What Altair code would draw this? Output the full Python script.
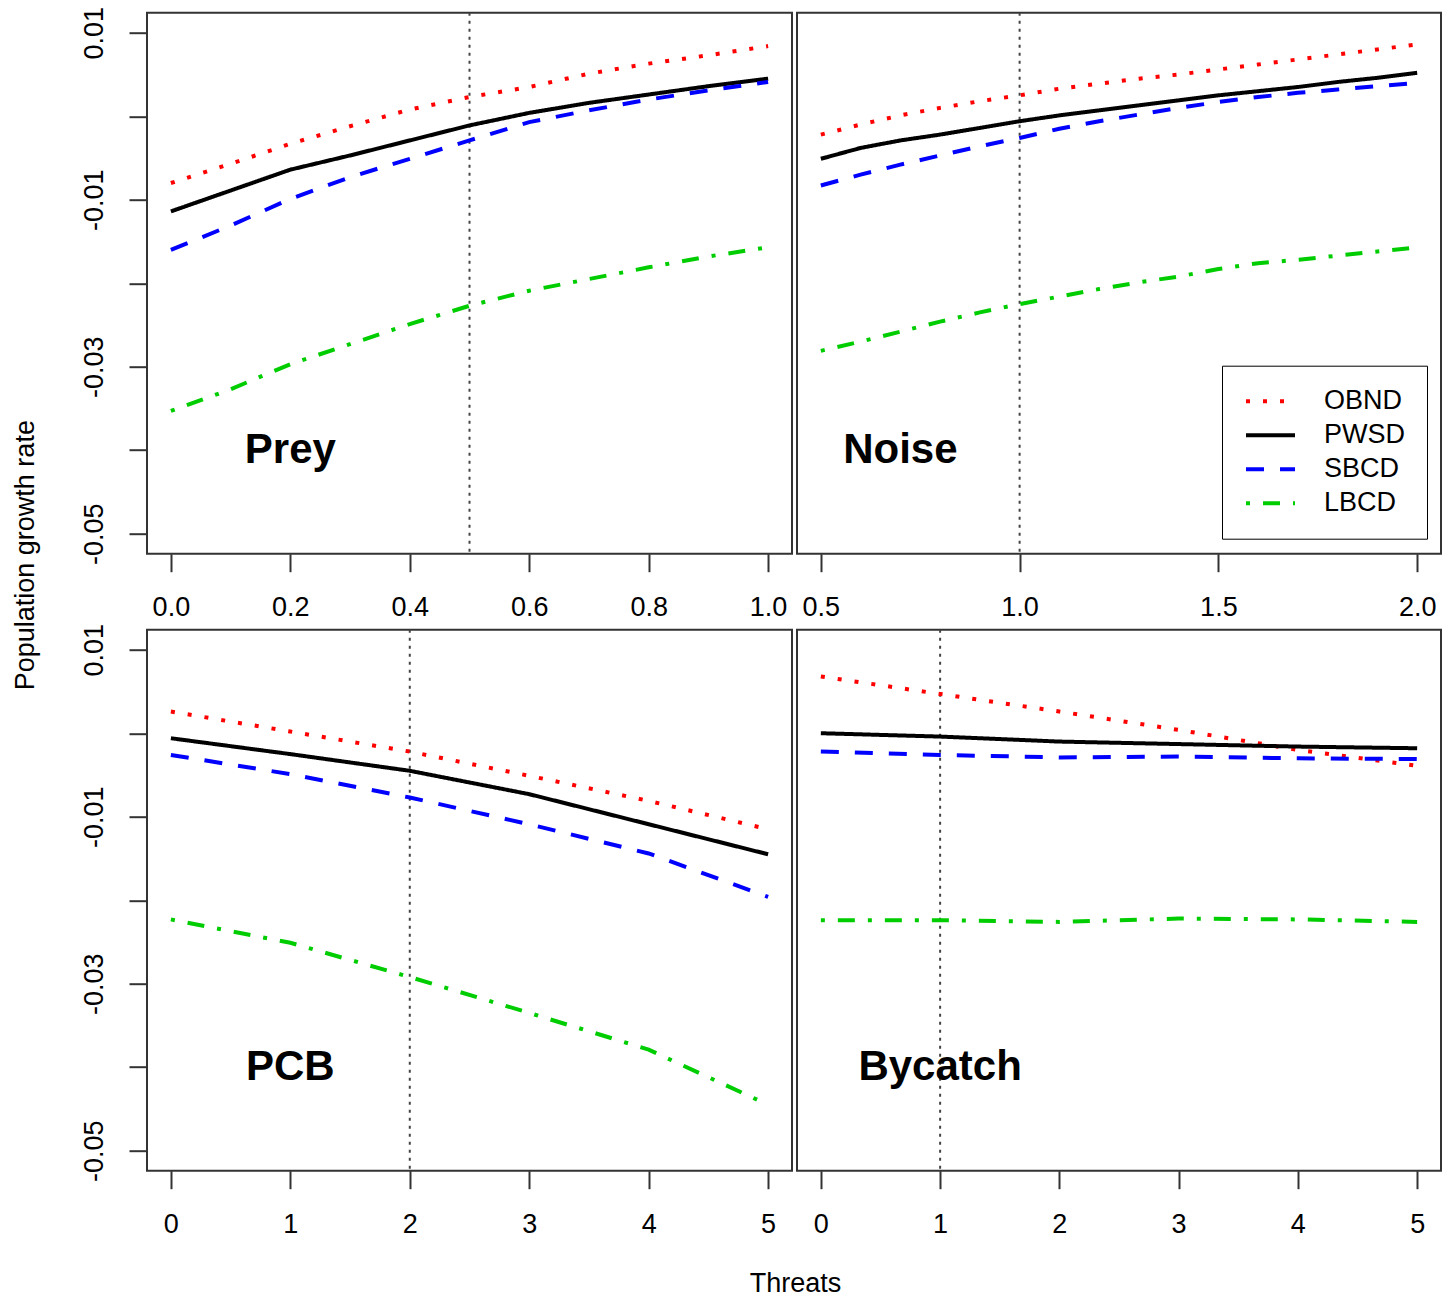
import json
import altair as alt
import pandas as pd

SERIES = ["OBND", "PWSD", "SBCD", "LBCD"]
COLORS = ["#FF0000", "#000000", "#0000FF", "#00CD00"]
DASHES = [[4, 13], [1, 0], [18, 16], [4, 13, 17, 13]]

# ---- Prey ----
PREY_X = [0.0, 0.1, 0.2, 0.3, 0.4, 0.5, 0.6, 0.7, 0.8, 0.9, 1.0]
PREY_OBND = [-0.0080, -0.0057, -0.0033, -0.0012, 0.0008, 0.0023, 0.0035, 0.0051, 0.0063, 0.0073, 0.0084]
PREY_PWSD = [-0.0114, -0.0089, -0.0064, -0.0047, -0.0029, -0.0011, 0.0004, 0.0016, 0.0026, 0.0036, 0.0045]
PREY_SBCD = [-0.0160, -0.0131, -0.0099, -0.0073, -0.0051, -0.0029, -0.0007, 0.0007, 0.0020, 0.0031, 0.0041]
PREY_LBCD = [-0.0353, -0.0327, -0.0297, -0.0273, -0.0249, -0.0227, -0.0209, -0.0195, -0.0181, -0.0168, -0.0157]

# ---- Noise ----
NOISE_X = [0.5, 0.6, 0.7, 0.8, 0.9, 1.0, 1.1, 1.2, 1.3, 1.4, 1.5, 1.6, 1.7, 1.8, 1.9, 2.0]
NOISE_OBND = [-0.0022, -0.0010, 0.0001, 0.0010, 0.0018, 0.0025, 0.0033, 0.0039, 0.0045, 0.0050, 0.0056, 0.0062, 0.0068, 0.0074, 0.0080, 0.0086]
NOISE_PWSD = [-0.0051, -0.0038, -0.0029, -0.0022, -0.0014, -0.0006, 0.0001, 0.0007, 0.0013, 0.0019, 0.0025, 0.0030, 0.0035, 0.0041, 0.0046, 0.0052]
NOISE_SBCD = [-0.0083, -0.0070, -0.0058, -0.0047, -0.0036, -0.0026, -0.0015, -0.0006, 0.0002, 0.0010, 0.0017, 0.0023, 0.0028, 0.0032, 0.0036, 0.0040]
NOISE_LBCD = [-0.0281, -0.0270, -0.0258, -0.0246, -0.0235, -0.0225, -0.0216, -0.0207, -0.0199, -0.0192, -0.0183, -0.0176, -0.0172, -0.0167, -0.0162, -0.0157]

# ---- PCB ----
PCB_X = [0, 1, 2, 3, 4, 5]
PCB_OBND = [0.0026, 0.0002, -0.0022, -0.0051, -0.0081, -0.0115]
PCB_PWSD = [-0.0006, -0.0025, -0.0045, -0.0073, -0.0109, -0.0145]
PCB_SBCD = [-0.0026, -0.0049, -0.0077, -0.0109, -0.0144, -0.0196]
PCB_LBCD = [-0.0223, -0.0251, -0.0292, -0.0335, -0.0379, -0.0445]

# ---- Bycatch ----
BYC_X = [0, 1, 2, 3, 4, 5]
BYC_OBND = [0.0068, 0.0047, 0.0026, 0.0004, -0.0020, -0.0039]
BYC_PWSD = [0.0000, -0.0004, -0.0010, -0.0013, -0.0016, -0.0018]
BYC_SBCD = [-0.0022, -0.0026, -0.0029, -0.0028, -0.0030, -0.0031]
BYC_LBCD = [-0.0224, -0.0224, -0.0226, -0.0222, -0.0223, -0.0226]

PANEL_NAMES = ["Prey", "Noise", "PCB", "Bycatch"]
LABEL_X = [0.2, 0.7, 1.0, 1.0]
LABEL_Y = [-0.04, -0.04, -0.04, -0.04]
REF_X = [0.5, 1.0, 2.0, 1.0]

X_DOMAINS = [[-0.04, 1.04], [0.44, 2.06], [-0.2, 5.2], [-0.2, 5.2]]
X_TICKS = [[0.0, 0.2, 0.4, 0.6, 0.8, 1.0], [0.5, 1.0, 1.5, 2.0], [0, 1, 2, 3, 4, 5], [0, 1, 2, 3, 4, 5]]
X_FORMATS = [".1f", ".1f", "d", "d"]

Y_DOMAIN = [-0.0524, 0.0124]
Y_TICKS = [0.01, 0.0, -0.01, -0.02, -0.03, -0.04, -0.05]
Y_TICK_LABELS = ["0.01", "", "-0.01", "", "-0.03", "", "-0.05"]

Y_TITLE = "Population growth rate"
X_TITLE = "Threats"

FONT = "Liberation Sans"

PANEL_DATA = [
    (PREY_X, [PREY_OBND, PREY_PWSD, PREY_SBCD, PREY_LBCD]),
    (NOISE_X, [NOISE_OBND, NOISE_PWSD, NOISE_SBCD, NOISE_LBCD]),
    (PCB_X, [PCB_OBND, PCB_PWSD, PCB_SBCD, PCB_LBCD]),
    (BYC_X, [BYC_OBND, BYC_PWSD, BYC_SBCD, BYC_LBCD]),
]

legend = alt.Legend(
    title=None, orient="none", legendX=1075, legendY=353,
    clipHeight=27, symbolType="stroke", symbolSize=2401, symbolStrokeWidth=4,
    labelFont=FONT, labelFontSize=27, labelColor="black", labelOffset=27,
    padding=22, rowPadding=6, strokeColor="black",
)

y_label_expr = f"{json.dumps(Y_TICK_LABELS)}[indexof({json.dumps(Y_TICKS)}, datum.value)]"


def make_panel(i):
    xs, vals = PANEL_DATA[i]
    rows = []
    for s, series_vals in zip(SERIES, vals):
        for x, v in zip(xs, series_vals):
            rows.append({"x": x, "value": v, "series": s})
    df = pd.DataFrame(rows)

    xaxis = dict(values=X_TICKS[i], format=X_FORMATS[i], title=None)
    if i == 2:
        xaxis.update(title=X_TITLE, titleX=648, titleY=121,
                     titleBaseline="alphabetic", titleAlign="center", titleAngle=0)
    x_enc = alt.X("x:Q", scale=alt.Scale(domain=X_DOMAINS[i], nice=False, zero=False),
                  axis=alt.Axis(**xaxis))

    if i in (0, 2):
        yaxis = dict(values=Y_TICKS, labelExpr=y_label_expr, title=None)
        if i == 0:
            yaxis.update(title=Y_TITLE, titleX=-122, titleY=542, titleBaseline="middle",
                         titleAlign="center", titleAngle=270)
        y_axis = alt.Axis(**yaxis)
    else:
        y_axis = None
    y_enc = alt.Y("value:Q", scale=alt.Scale(domain=Y_DOMAIN, nice=False, zero=False), axis=y_axis)

    rule = alt.Chart(pd.DataFrame({"x": [REF_X[i]]})).mark_rule(
        color="#444444", strokeDash=[3, 5], strokeWidth=2
    ).encode(x=x_enc)

    lines = alt.Chart(df).mark_line(strokeWidth=4, strokeCap="butt").encode(
        x=x_enc,
        y=y_enc,
        color=alt.Color("series:N", scale=alt.Scale(domain=SERIES, range=COLORS), legend=legend),
        strokeDash=alt.StrokeDash("series:N", scale=alt.Scale(domain=SERIES, range=DASHES), legend=legend),
    )

    txt = alt.Chart(pd.DataFrame({"x": [LABEL_X[i]], "value": [LABEL_Y[i]], "label": [PANEL_NAMES[i]]})).mark_text(
        font=FONT, fontSize=42, fontWeight="bold", color="black", align="center", baseline="middle"
    ).encode(x=x_enc, y=y_enc, text="label:N")

    width = 645 if i in (0, 2) else 644
    return alt.layer(rule, lines, txt).properties(width=width, height=541)


panels = [make_panel(i) for i in range(4)]

chart = alt.concat(
    *panels, columns=2, spacing={"row": 76, "column": 5}, bounds="flush"
).properties(
    autosize=alt.AutoSizeParams(type="none"),
    padding={"left": 139, "top": 4.7, "right": 1295, "bottom": 1285.3},
).configure_view(
    stroke="#333333", strokeWidth=2
).configure_axis(
    labelFont=FONT, labelFontSize=27, labelColor="black",
    titleFont=FONT, titleFontSize=27, titleFontWeight="normal", titleColor="black",
    tickColor="#333333", tickWidth=2, tickSize=18,
    domain=False, grid=False, labelOverlap=False, labelFlush=False,
).configure_axisX(
    labelPadding=23
).configure_axisY(
    labelPadding=27, labelAngle=270, labelAlign="center", labelBaseline="alphabetic"
)

chart.save("out.html", embed_options={"renderer": "svg", "actions": False})
